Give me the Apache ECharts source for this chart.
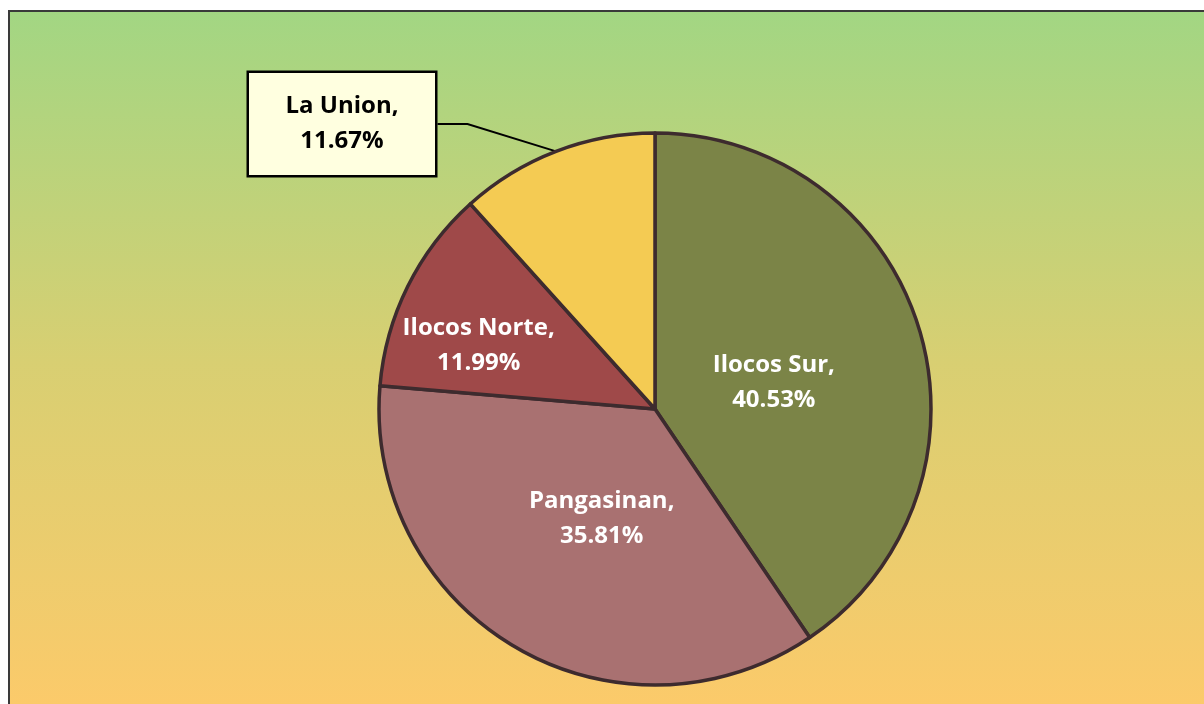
<!DOCTYPE html>
<html>
<head>
<meta charset="utf-8">
<script src="https://cdn.jsdelivr.net/npm/echarts@6/dist/echarts.min.js"></script>
<style>
  html, body { margin: 0; padding: 0; background: #ffffff; }
  #chart { width: 1204px; height: 704px; }
</style>
</head>
<body>
<div id="chart"></div>
<script>
(function () {
    'use strict';

    // data
    var provinces = ['Ilocos Sur', 'Pangasinan', 'Ilocos Norte', 'La Union'];
    var shares = [40.53, 35.81, 11.99, 11.67];
    var sliceColors = ['#7b8447', '#a97171', '#9f4949', '#f4cb53'];

    var chart = echarts.init(document.getElementById('chart'));
    var font = '"Open Sans", Lato, sans-serif';

    // inside labels nudged to where the original sits
    var labelOffsets = [[-16, 15], [18, -12], [-50, -1]];

    var seriesData = provinces.map(function (name, i) {
        var item = {
            name: name,
            value: shares[i],
            itemStyle: { color: sliceColors[i] }
        };
        if (i < 3) {
            item.label = { position: 'inside', offset: labelOffsets[i] };
            item.labelLine = { show: false };
        } else {
            item.label = {
                position: 'outside',
                color: '#000000',
                backgroundColor: '#ffffe0',
                borderColor: '#000000',
                borderWidth: 2.5,
                padding: [16, 20],
                width: 146,
                align: 'center'
            };
            item.labelLine = {
                show: true,
                lineStyle: { color: '#000000', width: 2 }
            };
        }
        return item;
    });

    var option = {
        animation: false,
        graphic: [{
            type: 'rect',
            left: 8,
            top: 10,
            z: -10,
            shape: { width: 1200, height: 700 },
            style: {
                fill: new echarts.graphic.LinearGradient(0, 0, 0, 1, [
                    { offset: 0, color: '#a2d683' },
                    { offset: 0.5, color: '#d8cf72' },
                    { offset: 1, color: '#fcca6a' }
                ]),
                stroke: '#3a3a3a',
                lineWidth: 2
            }
        }],
        series: [{
            type: 'pie',
            center: [655, 409],
            radius: 276,
            startAngle: 90,
            clockwise: true,
            data: seriesData,
            itemStyle: { borderColor: '#3d2b2e', borderWidth: 3.5 },
            label: {
                show: true,
                formatter: function (p) { return p.name + ',\n' + p.value.toFixed(2) + '%'; },
                color: '#ffffff',
                fontFamily: font,
                fontWeight: 'bold',
                fontSize: 24,
                lineHeight: 35,
                align: 'center'
            },
            labelLayout: function (params) {
                if (params.dataIndex === 3) {
                    return { x: 342, y: 124, align: 'center', verticalAlign: 'middle' };
                }
                return {};
            },
            emphasis: { disabled: true }
        }]
    };

    chart.setOption(option);
})();
</script>
</body>
</html>
